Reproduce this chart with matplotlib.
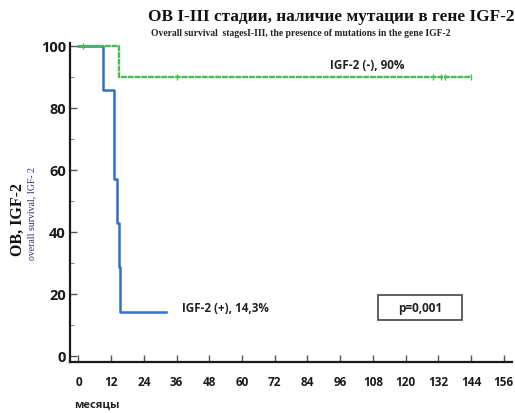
import matplotlib
matplotlib.use("Agg")
import matplotlib.pyplot as plt
from matplotlib.ticker import MultipleLocator
from matplotlib.patches import Rectangle

# Data
neg_times = [0, 15.0, 144]
neg_surv = [100, 90, 90]
neg_censor_t = [1.5, 36, 130, 133, 134.5, 144]
neg_censor_s = [100, 90, 90, 90, 90, 90]

pos_times = [0, 9, 13, 14, 14.8, 15.4, 32]
pos_surv = [100, 85.7, 57.1, 42.9, 28.6, 14.3, 14.3]

x_ticks = [0, 12, 24, 36, 48, 60, 72, 84, 96, 108, 120, 132, 144, 156]
y_ticks = [0, 20, 40, 60, 80, 100]

title = "ОВ I-III стадии, наличие мутации в гене IGF-2"
subtitle = "Overall survival  stagesI-III, the presence of mutations in the gene IGF-2"
ylabel_main = "ОВ, IGF-2"
ylabel_sub = "overall survival, IGF- 2"
xlabel = "месяцы"
label_neg = "IGF-2 (-), 90%"
label_pos = "IGF-2 (+), 14,3%"
p_text = "p=0,001"

W, H = 515, 413
fig = plt.figure(figsize=(W/100, H/100), dpi=100)
ax = fig.add_axes([70/W, 1-362/H, (512-70)/W, (362-43)/H])

green = "#4cbb55"
blue = "#3070c8"

ax.step(pos_times, pos_surv, where="post", color=blue, lw=1.8, zorder=2)
ax.step(neg_times, neg_surv, where="post", color=green, lw=1.7, ls=(0, (2.5, 0.35)), zorder=3)
ax.plot(neg_censor_t, neg_censor_s, ls="none", marker="|", color=green, ms=5, mew=1.0, zorder=3)

ax.set_xlim(-3.1, 159)
ax.set_ylim(-1.9, 101)
ax.set_xticks(x_ticks)
ax.set_yticks(y_ticks)
ax.yaxis.set_minor_locator(MultipleLocator(10))
for s in ["top", "right"]:
    ax.spines[s].set_visible(False)
for s in ["left", "bottom"]:
    ax.spines[s].set_linewidth(1.6)
    ax.spines[s].set_color("#1a1a1a")
ax.tick_params(axis="both", which="major", direction="in", length=5, width=1.0, color="#555555")
ax.tick_params(axis="y", which="minor", direction="in", length=3, width=0.8, color="#888888")
ax.tick_params(axis="x", pad=10)
ax.tick_params(axis="y", pad=3)
for lbl in ax.get_xticklabels():
    lbl.set_fontweight("bold")
    lbl.set_fontfamily("Open Sans")
    lbl.set_fontsize(8.5)
    lbl.set_color("#1a1a1a")
for lbl in ax.get_yticklabels():
    lbl.set_fontweight("bold")
    lbl.set_fontfamily("Open Sans")
    lbl.set_fontsize(10.5)
    lbl.set_color("#1a1a1a")

fig.text(148/W, 1-17/H, title, ha="left", va="center", family="Liberation Serif",
         fontweight="bold", fontsize=12.4, color="#111111")
fig.text(151/W, 1-34/H, subtitle, ha="left", va="center", family="Liberation Serif",
         fontweight="bold", fontsize=6.9, color="#222222")
fig.text(18/W, 1-220/H, ylabel_main, ha="center", va="center", rotation=90,
         family="Liberation Serif", fontweight="bold", fontsize=11.5, color="#111111")
fig.text(32/W, 1-214/H, ylabel_sub, ha="center", va="center", rotation=90,
         family="Liberation Serif", fontsize=7, color="#3a2a6a")
fig.text(97/W, 1-405/H, xlabel, ha="center", va="center", family="Open Sans",
         fontweight="bold", fontsize=8, color="#222222")

ax.text(105.9, 93.9, label_neg, ha="center", va="center", family="Open Sans",
        fontweight="bold", fontsize=8.5, color="#222222")
ax.text(53.8, 15.5, label_pos, ha="center", va="center", family="Open Sans",
        fontweight="bold", fontsize=8.4, color="#222222")
ax.text(125.3, 15.3, p_text, ha="center", va="center", family="Open Sans",
        fontweight="bold", fontsize=8.5, color="#222222")
fig.patches.append(Rectangle((378/W, 1-320/H), 84/W, 25/H, transform=fig.transFigure,
                             fill=False, ec="#444444", lw=1.2))

fig.savefig("out.png", dpi=100)
